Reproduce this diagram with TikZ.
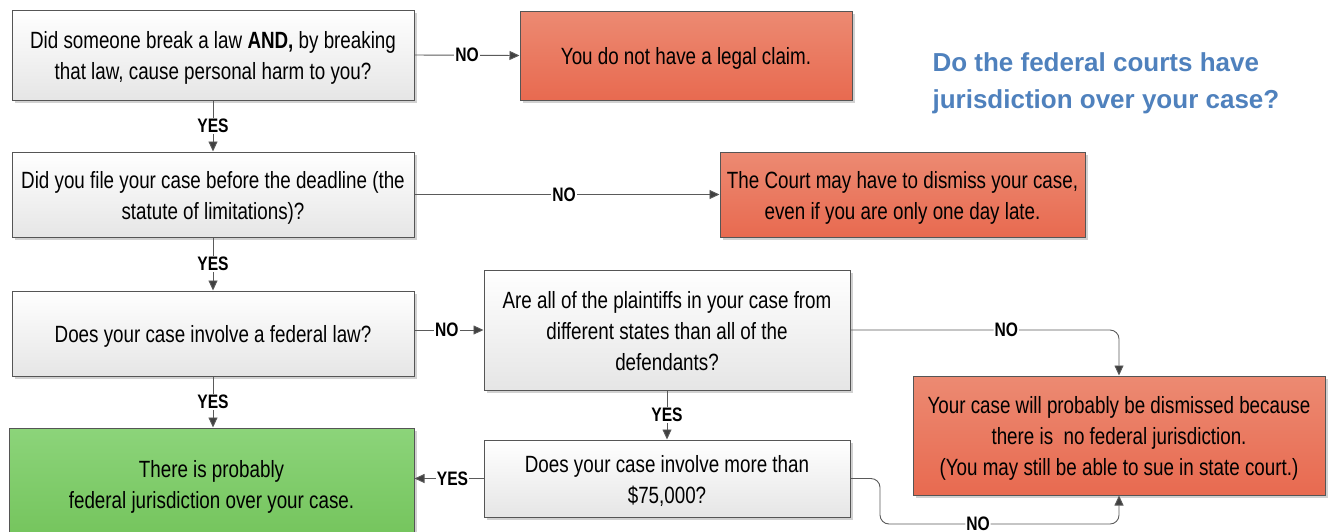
\documentclass[tikz,border=0pt]{standalone}
\usepackage{fontspec}
\setmainfont[FakeStretch=0.8]{Liberation Sans}
\newfontfamily\titlefont{Liberation Sans}
\usetikzlibrary{shadows,arrows.meta}
\definecolor{edgegray}{HTML}{5A5A5A}
\definecolor{boxline}{HTML}{555555}
\definecolor{redtop}{HTML}{EC8A72}
\definecolor{redbot}{HTML}{E86A50}
\definecolor{greentop}{HTML}{8CD47A}
\definecolor{greenbot}{HTML}{74C45C}
\definecolor{titleblue}{HTML}{4F81BD}
\newcommand\boxtxt[1]{\begin{tabular}{@{}c@{}}\rule{0pt}{28pt}#1\end{tabular}}
\tikzset{
  basebox/.style={draw=boxline, line width=1pt, inner sep=0pt,
    font=\fontsize{23.5}{31}\selectfont,
    drop shadow={shadow xshift=3pt, shadow yshift=-3pt, fill=black!18, opacity=1}},
  qbox/.style={basebox, top color=white, bottom color=black!10},
  redbox/.style={basebox, top color=redtop, bottom color=redbot},
  greenbox/.style={basebox, top color=greentop, bottom color=greenbot},
  arr/.style={draw=edgegray, line width=0.9pt, -{Triangle[length=10pt,width=9pt,fill=black!75]}},
  lbl/.style={fill=white, inner sep=1pt, font=\fontsize{19.5}{19.5}\selectfont\bfseries}
}
\begin{document}
\begin{tikzpicture}[x=1pt,y=-1pt]
\useasboundingbox (0,0) rectangle (1330,531);
% boxes
\node[qbox, minimum width=402pt, minimum height=90pt] (q1) at (213,55)
  {\boxtxt{Did someone break a law \textbf{AND,} by breaking\\that law, cause personal harm to you?}};
\node[redbox, minimum width=332pt, minimum height=89pt] (r1) at (686,55.5)
  {\boxtxt{You do not have a legal claim.}};
\node[qbox, minimum width=402pt, minimum height=85pt] (q2) at (213,194.5)
  {\boxtxt{Did you file your case before the deadline (the\\statute of limitations)?}};
\node[redbox, minimum width=365pt, minimum height=85pt] (r2) at (902.5,194.5)
  {\boxtxt{The Court may have to dismiss your case,\\even if you are only one day late.}};
\node[qbox, minimum width=402pt, minimum height=85pt] (q3) at (213,333.5)
  {\boxtxt{Does your case involve a federal law?}};
\node[qbox, minimum width=366pt, minimum height=120pt] (q4) at (667,330)
  {\boxtxt{Are all of the plaintiffs in your case from\\different states than all of the\\defendants?}};
\node[redbox, minimum width=412pt, minimum height=119pt] (r3) at (1119,435.5)
  {\boxtxt{Your case will probably be dismissed because\\there is\ \ no federal jurisdiction.\\(You may still be able to sue in state court.)}};
\node[greenbox, minimum width=405pt, minimum height=112pt] (g) at (211.5,484)
  {\boxtxt{There is probably\\federal jurisdiction over your case.}};
\node[qbox, minimum width=366pt, minimum height=77pt] (q5) at (667,478.5)
  {\boxtxt{Does your case involve more than\\\$75,000?}};
\node[font=\titlefont\fontsize{26}{37}\selectfont\bfseries, text=titleblue, align=left, anchor=west] (title) at (929,83)
  {Do the federal courts have\\jurisdiction over your case?};
% connectors
\draw[arr] (q1.east) -- node[lbl, pos=0.5] {NO} (r1.west);
\draw[arr] (q1.south) -- node[lbl] {YES} (q2.north);
\draw[arr] (q2.east) -- node[lbl, pos=0.49] {NO} (r2.west);
\draw[arr] (q2.south) -- node[lbl] {YES} (q3.north);
\draw[arr] (q3.east |- q4.west) -- node[lbl, pos=0.47] {NO} (q4.west);
\draw[arr] (q3.south) -- node[lbl] {YES} (q3.south |- g.north);
\draw[arr] (q4.south) -- node[lbl] {YES} (q5.north);
\draw[arr] (q5.west) -- node[lbl, pos=0.45] {YES} (q5.west -| g.east);
\draw[arr, rounded corners=9pt] (q4.east) -| node[lbl, pos=0.29] {NO} (r3.north);
\coordinate (c1) at (880,524);
\draw[arr, rounded corners=9pt] (q5.east) -| (c1) -| node[lbl, pos=0.205] {NO} (r3.south);
\end{tikzpicture}
\end{document}
